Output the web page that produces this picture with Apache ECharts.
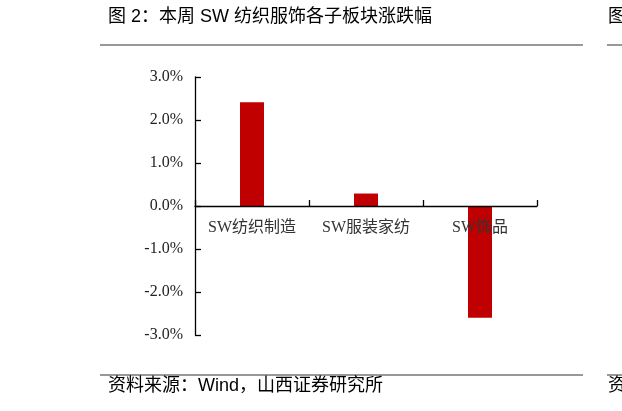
<!DOCTYPE html>
<html>
<head>
<meta charset="utf-8">
<script src="https://cdn.jsdelivr.net/npm/echarts@6/dist/echarts.min.js"></script>
<style>
html,body{margin:0;padding:0;background:#fff;}
#chart{width:622px;height:411px;}
</style>
</head>
<body>
<div id="chart"></div>
<script>
var categories = ['SW纺织制造', 'SW服装家纺', 'SW饰品'];
var changes = [2.41, 0.29, -2.60];
var yTicks = { min: -3, max: 3, interval: 1 };
var titleText = '图 2：本周 SW 纺织服饰各子板块涨跌幅';
var sourceText = '资料来源：Wind，山西证券研究所';

var chart = echarts.init(document.getElementById('chart'));
var serif = '"Liberation Serif", "Noto Sans CJK SC", serif';
var sans = '"Liberation Sans", "Noto Sans CJK SC", sans-serif';
chart.setOption({
  animation: false,
  backgroundColor: '#fff',
  grid: { left: 195, right: 85, top: 77, bottom: 76 },
  xAxis: {
    type: 'category',
    data: categories,
    z: 5,
    offset: -129,
    axisLine: { onZero: false, lineStyle: { color: '#000', width: 1.3 } },
    axisTick: { show: true, inside: true, length: 6, interval: 0, lineStyle: { color: '#000', width: 1.3 } },
    axisLabel: { margin: 14, interval: 0, hideOverlap: false, fontSize: 16, color: '#333', fontFamily: serif },
    splitLine: { show: false }
  },
  yAxis: {
    type: 'value',
    min: yTicks.min,
    max: yTicks.max,
    interval: yTicks.interval,
    axisLine: { show: true, lineStyle: { color: '#000', width: 1.3 } },
    axisTick: { show: true, inside: true, length: 6, lineStyle: { color: '#000', width: 1.3 } },
    axisLabel: {
      margin: 12, fontSize: 16, color: '#222', fontFamily: serif,
      formatter: function (v) { return v.toFixed(1) + '%'; }
    },
    splitLine: { show: false }
  },
  series: [{
    type: 'bar',
    data: changes,
    barWidth: 24,
    itemStyle: { color: '#C00000' }
  }],
  graphic: [
    { type: 'text', left: 108, top: 8, style: { text: titleText, font: '18px ' + sans, fill: '#000' } },
    { type: 'text', left: 608, top: 8, style: { text: '图', font: '18px ' + sans, fill: '#000' } },
    { type: 'line', shape: { x1: 100, y1: 45, x2: 583, y2: 45 }, style: { stroke: '#333', lineWidth: 1 } },
    { type: 'line', shape: { x1: 607, y1: 45, x2: 622, y2: 45 }, style: { stroke: '#333', lineWidth: 1 } },
    { type: 'line', shape: { x1: 100, y1: 375, x2: 583, y2: 375 }, style: { stroke: '#333', lineWidth: 1 } },
    { type: 'line', shape: { x1: 607, y1: 375, x2: 622, y2: 375 }, style: { stroke: '#333', lineWidth: 1 } },
    { type: 'text', left: 108, top: 377, style: { text: sourceText, font: '18px ' + sans, fill: '#000' } },
    { type: 'text', left: 608, top: 377, style: { text: '资', font: '18px ' + sans, fill: '#000' } }
  ]
});
</script>
</body>
</html>
